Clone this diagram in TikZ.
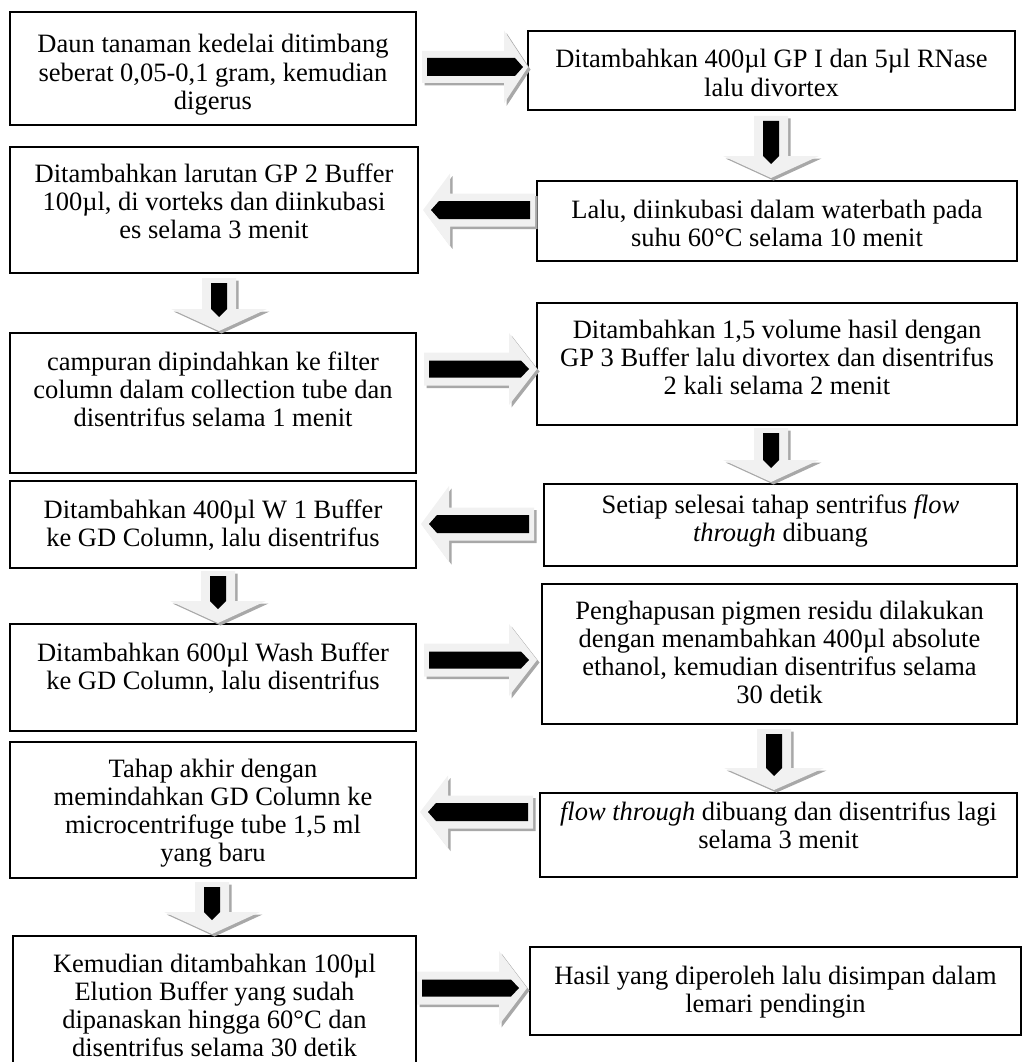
\documentclass[tikz,border=0pt]{standalone}
\usepackage{fontspec}
\setmainfont{Liberation Serif}
\definecolor{arrowlight}{HTML}{F1F1F1}
\definecolor{arrowshadow}{HTML}{A8A8A8}
\newcommand\mkbox[7]{%
  \node[box, minimum width={#4-#2}, minimum height={#5-#3}] (#1) at ({(#2+#4)/2},{(#3+#5)/2}) {};
  \node[txt] (#1t) at ({(#2+#4)/2},{#3+#6}) {\begin{tabular}[t]{@{}c@{}}#7\end{tabular}};
}
\newcommand\blockarr[9]{%
  \begin{scope}[shift={(#1,#2)}, shift={(2.5,2.5)}, rotate=#3]
    \fill[arrowshadow] (0,{-#7/2}) -- ({#4-#5},{-#7/2}) -- ({#4-#5},{-#6/2}) -- (#4,0) -- ({#4-#5},{#6/2}) -- ({#4-#5},{#7/2}) -- (0,{#7/2}) -- cycle;
  \end{scope}
  \begin{scope}[shift={(#1,#2)}, rotate=#3]
    \fill[arrowlight] (0,{-#7/2}) -- ({#4-#5},{-#7/2}) -- ({#4-#5},{-#6/2}) -- (#4,0) -- ({#4-#5},{#6/2}) -- ({#4-#5},{#7/2}) -- (0,{#7/2}) -- cycle;
    \fill[black] (5,{-#8/2}) -- ({#4-#9-8},{-#8/2}) -- ({#4-#9},0) -- ({#4-#9-8},{#8/2}) -- (5,{#8/2}) -- cycle;
  \end{scope}
}
\begin{document}
\begin{tikzpicture}[x=1pt,y=-1pt,
  box/.style={draw=black, line width=1.5pt, inner sep=0pt},
  txt/.style={anchor=base, inner sep=0pt, font=\fontsize{26.5}{28.2}\selectfont}]
\useasboundingbox (0,0) rectangle (1028,1062);

% boxes
\mkbox{L1}{10}{12}{416}{125}{41}{Daun tanaman kedelai ditimbang\\seberat 0,05-0,1 gram, kemudian\\digerus}
\mkbox{R1}{528}{31}{1015}{110}{37}{Ditambahkan 400µl GP I dan 5µl RNase\\lalu divortex}
\mkbox{L2}{10}{147}{418}{273}{35}{Ditambahkan larutan GP 2 Buffer\\100µl, di vorteks dan diinkubasi\\es selama 3 menit}
\mkbox{R2}{537}{181}{1017}{261}{37}{Lalu, diinkubasi dalam waterbath pada\\suhu 60°C selama 10 menit}
\mkbox{L3}{10}{333}{416}{473}{37}{campuran dipindahkan ke filter\\column dalam collection tube dan\\disentrifus selama 1 menit}
\mkbox{R3}{537}{303}{1017}{425}{35}{Ditambahkan 1,5 volume hasil dengan\\GP 3 Buffer lalu divortex dan disentrifus\\2 kali selama 2 menit}
\mkbox{L4}{10}{481}{416}{568}{37}{Ditambahkan 400µl W 1 Buffer\\ke GD Column, lalu disentrifus}
\mkbox{R4}{544}{484}{1017}{566}{29}{Setiap selesai tahap sentrifus \textit{flow}\\\textit{through} dibuang}
\mkbox{L5}{10}{624}{416}{731}{37}{Ditambahkan 600µl Wash Buffer\\ke GD Column, lalu disentrifus}
\mkbox{R5}{542}{584}{1017}{724}{35}{Penghapusan pigmen residu dilakukan\\dengan menambahkan 400µl absolute\\ethanol, kemudian disentrifus selama\\30 detik}
\mkbox{L6}{10}{742}{416}{878}{35}{Tahap akhir dengan\\memindahkan GD Column ke\\microcentrifuge tube 1,5 ml\\yang baru}
\mkbox{R6}{540}{793}{1017}{877}{27}{\textit{flow through} dibuang dan disentrifus lagi\\selama 3 menit}
\mkbox{L7}{13}{936}{416}{1068}{36}{Kemudian ditambahkan 100µl\\Elution Buffer yang sudah\\dipanaskan hingga 60°C dan\\disentrifus selama 30 detik}
\mkbox{R7}{530}{947}{1021}{1035}{37}{Hasil yang diperoleh lalu disimpan dalam\\lemari pendingin}

% horizontal block arrows
\blockarr{422}{67}{0}{106}{24}{73}{32}{18}{5}
\blockarr{535}{210}{180}{112}{27}{73}{33}{18}{8}
\blockarr{424}{369}{0}{113}{28}{72}{33}{17}{8}
\blockarr{534}{524}{180}{113}{28}{76}{33}{18}{8}
\blockarr{424}{660}{0}{113}{28}{72}{33}{17}{8}
\blockarr{533}{812}{180}{113}{28}{73}{33}{18}{8}
\blockarr{417}{988}{0}{110}{28}{74}{33}{17}{8}

% vertical block arrows
\blockarr{771}{116}{-90}{62}{22}{96}{34}{16}{14}
\blockarr{219}{278}{-90}{53}{22}{96}{34}{16}{14}
\blockarr{771}{428}{-90}{54}{22}{96}{34}{16}{14}
\blockarr{218}{571}{-90}{52}{22}{96}{34}{16}{14}
\blockarr{774}{729}{-90}{61}{22}{100}{34}{16}{14}
\blockarr{212}{882}{-90}{52}{22}{96}{34}{16}{14}
\end{tikzpicture}
\end{document}
